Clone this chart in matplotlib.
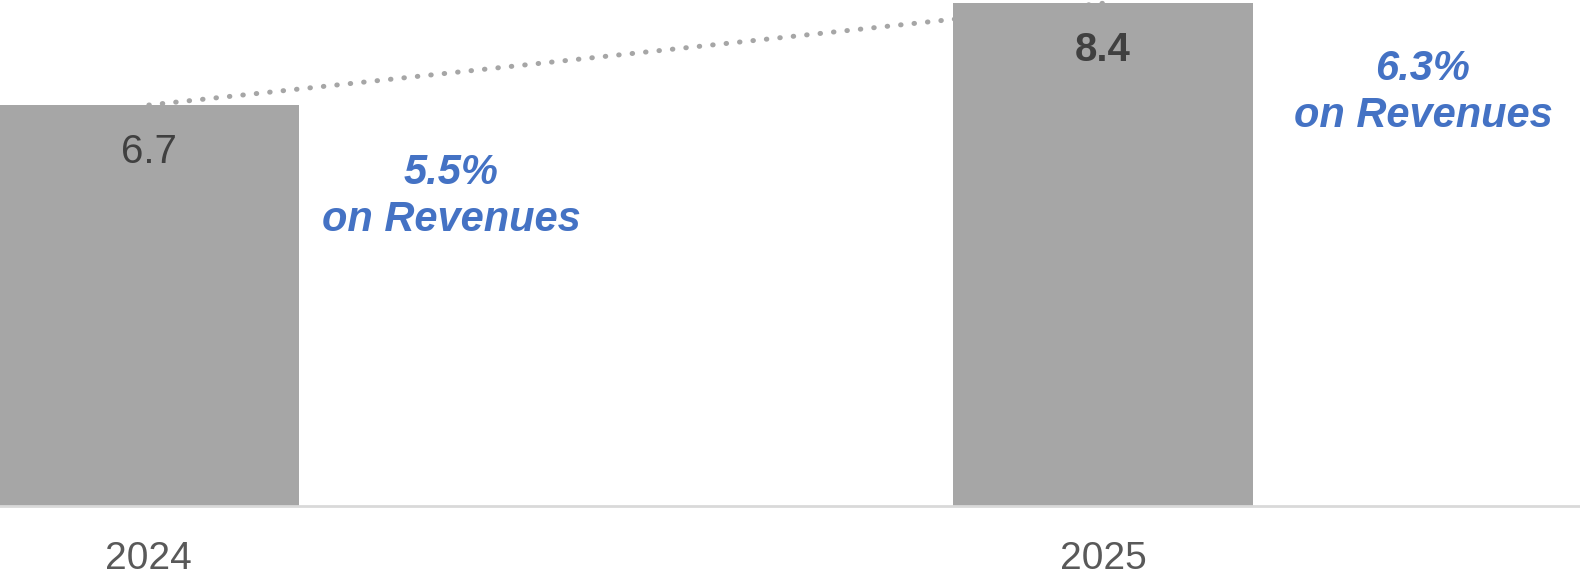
import matplotlib
matplotlib.use("Agg")
import matplotlib.pyplot as plt

years = ["2024", "2025"]
values = [6.7, 8.4]
value_labels = ["6.7", "8.4"]
margin_labels = ["5.5%\non Revenues", "6.3%\non Revenues"]

plt.rcParams['font.family'] = ['Liberation Sans', 'DejaVu Sans']

fig = plt.figure(figsize=(15.8, 5.7), dpi=100)
ax = fig.add_axes([0, 64/570, 1, 506/570])

x = list(range(len(years)))
bar_color = "#a6a6a6"
ax.plot(x, values, linestyle=(0, (0.1, 2.6)), dash_capstyle='round', color=bar_color,
        linewidth=3.6, zorder=1)
ax.bar(x, values, width=0.3145, color=bar_color, zorder=2)

ax.set_xlim(-0.156, 1.5)
ax.set_ylim(0, 8.455)

weights = ["normal", "bold"]
for xi, v, lab, w in zip(x, values, value_labels, weights):
    ax.annotate(lab, (xi, v), xytext=(0, -20), textcoords='offset points',
                ha='center', va='top', fontsize=29, color="#404040", fontweight=w, zorder=3)

ann_x = [0.3166, 1.3354]
ann_y = [5.17, 6.91]
for ax_, ay, lab in zip(ann_x, ann_y, margin_labels):
    ax.text(ax_, ay, lab, ha='center', va='center', fontsize=30, color="#4472c4",
            fontweight='bold', fontstyle='italic', linespacing=1.25, zorder=3)

ax.set_xticks(x)
ax.set_xticklabels(years, fontsize=28, color="#595959")
ax.tick_params(axis='x', length=0, pad=25)
ax.set_yticks([])
for s in ["top", "left", "right"]:
    ax.spines[s].set_visible(False)
ax.spines["bottom"].set_color("#d9d9d9")
ax.spines["bottom"].set_linewidth(2)

fig.savefig("out.png", dpi=100)
